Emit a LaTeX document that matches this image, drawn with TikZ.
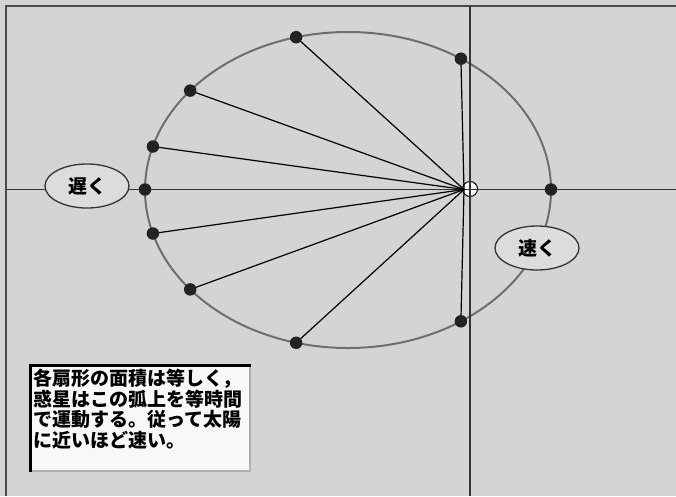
\documentclass[tikz,border=0pt]{standalone}
\usepackage{fontspec}
\newfontfamily\cjk{Noto Sans CJK JP}
\usetikzlibrary{shapes.geometric}
\definecolor{bgc}{HTML}{D4D4D4}
\definecolor{axisc}{HTML}{333333}
\definecolor{orbitc}{HTML}{6E6E6E}
\definecolor{dotc}{HTML}{222222}
\definecolor{lblfill}{HTML}{DCDCDC}
\definecolor{boxfill}{HTML}{F8F8F8}
\definecolor{boxlight}{HTML}{B0B0B0}
\definecolor{framec}{HTML}{4A4A4A}
\tikzset{
  axisline/.style={draw=axisc, line width=1.8pt},
  orbitline/.style={draw=orbitc, line width=2pt},
  sectorline/.style={draw=black, line width=1.2pt},
  planet/.style={circle, fill=dotc, inner sep=0pt, minimum size=12.5pt},
  speedlbl/.style={ellipse, draw=axisc, line width=1.3pt, fill=lblfill, minimum width=84pt, minimum height=44pt, inner sep=0pt, font=\cjk\bfseries\fontsize{19}{19}\selectfont},
}
\begin{document}
\begin{tikzpicture}[x=1pt,y=-1pt]
\useasboundingbox (0,0) rectangle (676,496);
\fill[bgc] (0,0) rectangle (676,496);
% frame
\draw[framec, line width=2.5pt] (5,6) -- (676,6);
\draw[framec, line width=2.5pt] (6,5) -- (6,496);
% orbit
\draw[orbitline] (348,190) ellipse [x radius=203, y radius=158];
% sun
\node[circle, draw=black, fill=white, line width=1pt, minimum size=15pt, inner sep=0pt] (sun) at (470,189) {};
% axes
\coordinate (axL) at (6,189.5);
\coordinate (axR) at (676,189.5);
\coordinate (axT) at (470,6);
\coordinate (axB) at (470,496);
\draw[axisline] (axL) -- (axR);
\draw[axisline] (axT) -- (axB);
% focus where lines meet
\coordinate (F) at (464,189.5);
% planet positions
\coordinate (p1) at (296.1,37.2);
\coordinate (p2) at (460.9,58.7);
\coordinate (p3) at (190.2,90.6);
\coordinate (p4) at (152.9,146.5);
\coordinate (p5) at (145,189.5);
\coordinate (p6) at (152.9,233.5);
\coordinate (p7) at (190.2,289.4);
\coordinate (p8) at (296.1,342.8);
\coordinate (p9) at (460.9,321.3);
\coordinate (p10) at (551,189.5);
\foreach \p in {p1,p2,p3,p4,p6,p7,p8,p9}{
  \draw[sectorline] (F) -- (\p);
}
\foreach \p in {p1,p2,p3,p4,p5,p6,p7,p8,p9,p10}{
  \node[planet] (d\p) at (\p) {};
}
% speed labels
\node[speedlbl] (slow) at (87,186) {遅く};
\node[speedlbl] (fast) at (537,248) {速く};
% text box
\fill[boxfill] (30,365) rectangle (250,471);
\draw[boxlight, line width=2pt] (250,365) -- (250,471) -- (30,471);
\draw[black, line width=3pt] (30,472) -- (30,365) -- (251,365);
\node[anchor=north west, inner sep=0pt, align=left, font=\cjk\bfseries\fontsize{19}{20}\selectfont] (note) at (33,369) {各扇形の面積は等しく，\\[0.6pt]惑星はこの弧上を等時間\\[0.6pt]で運動する。従って太陽\\[0.6pt]に近いほど速い。};
\end{tikzpicture}
\end{document}
